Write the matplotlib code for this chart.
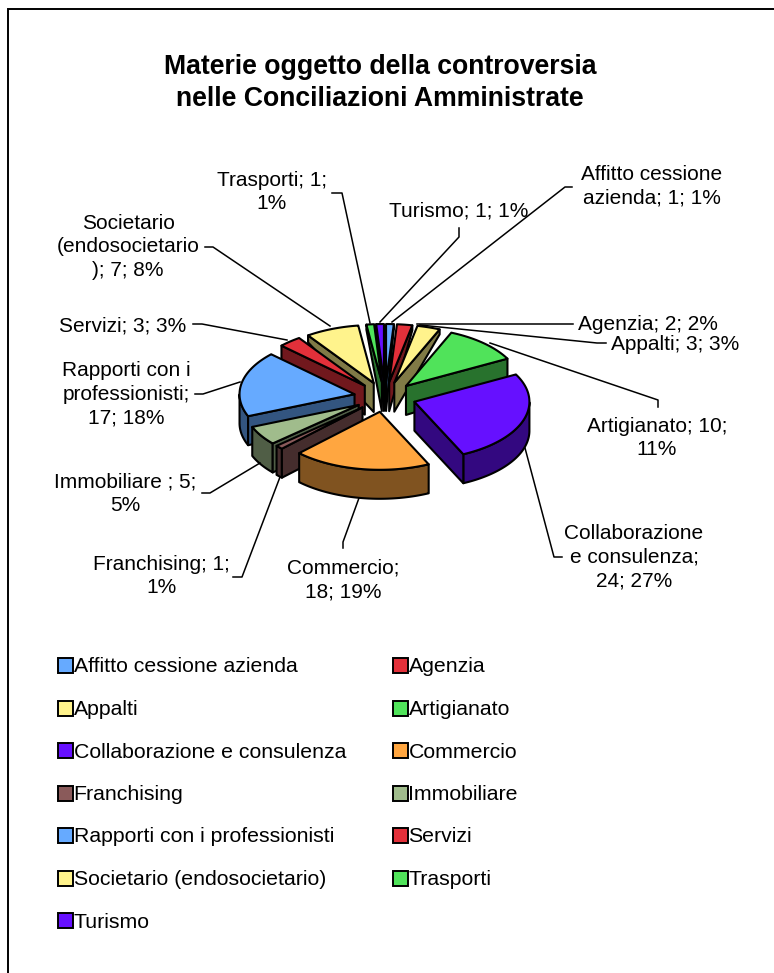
#!/usr/bin/python3
import numpy as np
import matplotlib
matplotlib.use("Agg")
import matplotlib.pyplot as plt
from matplotlib.patches import Polygon, Rectangle

plt.rcParams['font.family'] = ['Liberation Sans', 'DejaVu Sans']

# data
categories = ["Affitto cessione azienda", "Agenzia", "Appalti", "Artigianato",
              "Collaborazione e consulenza", "Commercio", "Franchising", "Immobiliare",
              "Rapporti con i professionisti", "Servizi", "Societario (endosocietario)",
              "Trasporti", "Turismo"]
values = [1, 2, 3, 10, 24, 18, 1, 5, 17, 3, 7, 1, 1]
colors = ["#66AAFF", "#E2303A", "#FFF38C", "#50E35A", "#6610FF", "#FFA640", "#8A5A5A",
          "#A0BC8C", "#66AAFF", "#E2303A", "#FFF38C", "#50E35A", "#6610FF"]

pie_labels = ["Affitto cessione\nazienda; 1; 1%", "Agenzia; 2; 2%", "Appalti; 3; 3%",
              "Artigianato; 10;\n11%", "Collaborazione\ne consulenza;\n24; 27%",
              "Commercio;\n18; 19%", "Franchising; 1;\n1%", "Immobiliare ; 5;\n5%",
              "Rapporti con i\nprofessionisti;\n17; 18%", "Servizi; 3; 3%",
              "Societario\n(endosocietario\n); 7; 8%", "Trasporti; 1;\n1%", "Turismo; 1; 1%"]
# label centre position and leader polyline, in picture pixels
label_pos = [(652, 186), (648, 324), (675, 345), (657, 438), (634, 557), (343, 580), (161, 576),
             (125, 494), (126, 394), (123, 326), (128, 247), (272, 192), (459, 211)]
leaders = [[(572, 187), (565, 187), (392, 322)], [(573, 324), (417, 324)],
           [(606, 343), (597, 343), (420, 325)], [(490, 343), (658, 400), (658, 407)],
           [(525, 448), (554, 557), (562, 557)], [(359, 498), (343, 542), (343, 548)],
           [(280, 477), (242, 577), (233, 577)], [(260, 463), (210, 493), (202, 493)],
           [(240, 382), (203, 394), (195, 394)], [(193, 324), (202, 324), (287, 340)],
           [(205, 247), (213, 247), (330, 326)], [(332, 193), (342, 193), (370, 323)],
           [(459, 228), (459, 237), (380, 322)]]

# pie geometry, picture pixels
cx, cy = 385, 397
rx, ry = 115, 58
ex, ey = 31, 15


def shade(c, f=0.5):
    r = matplotlib.colors.to_rgb(c)
    return tuple(v * f for v in r)


def depth(y):
    # far side of the pie looks thinner
    return np.clip(5 + (y - 333) * 0.8, 5, 29)


fig = plt.figure(figsize=(7.74, 9.73), dpi=100)
ax = fig.add_axes([0, 0, 1, 1])
ax.set_xlim(0, 774)
ax.set_ylim(973, 0)
ax.axis("off")

ax.add_patch(Rectangle((7.5, 8.5), 780, 990, fc="white", ec="black", lw=1.4))

ax.text(380, 83, "Materie oggetto della controversia\nnelle Conciliazioni Amministrate",
        ha="center", va="center", fontsize=19.2, fontweight="bold", linespacing=1.34)

# wedges
fr = np.cumsum([0] + values) / sum(values) * 2 * np.pi
wedges = []
for i in range(len(values)):
    a0, a1 = fr[i], fr[i + 1]
    mid = (a0 + a1) / 2
    ox = cx + ex * np.sin(mid)
    oy = cy - ey * np.cos(mid)
    t = np.linspace(a0, a1, max(3, values[i] * 6))
    wedges.append((oy, i, ox, oy, t))

for _, i, ox, oy, t in sorted(wedges, key=lambda w: w[0]):
    side = shade(colors[i])
    xs = ox + rx * np.sin(t)
    ys = oy - ry * np.cos(t)
    low = ys + depth(ys)

    # only the faces turned to the viewer get drawn
    front = np.cos(t) <= 0
    if front.sum() >= 2:
        rim = list(zip(xs[front], ys[front])) + list(zip(xs[front][::-1], low[front][::-1]))
        ax.add_patch(Polygon(rim, fc=side, ec="black", lw=1.5, joinstyle="round"))
    if np.sin(t[0]) < 0:
        wall = [(ox, oy), (xs[0], ys[0]), (xs[0], low[0]), (ox, oy + depth(oy))]
        ax.add_patch(Polygon(wall, fc=side, ec="black", lw=1.5, joinstyle="round"))
    if np.sin(t[-1]) > 0:
        wall = [(ox, oy), (xs[-1], ys[-1]), (xs[-1], low[-1]), (ox, oy + depth(oy))]
        ax.add_patch(Polygon(wall, fc=side, ec="black", lw=1.5, joinstyle="round"))
    top = [(ox, oy)] + list(zip(xs, ys))
    ax.add_patch(Polygon(top, fc=colors[i], ec="black", lw=1.5, joinstyle="round"))

# labels
for lab, (lx, ly), ld in zip(pie_labels, label_pos, leaders):
    ax.text(lx, ly, lab, ha="center", va="center", fontsize=15, linespacing=1.32)
    ax.plot(*zip(*ld), color="black", lw=1.1)

# legend
leg_x = [57.5, 392.5]
for i, cat in enumerate(categories):
    x = leg_x[i % 2]
    y = 665.5 + (i // 2) * 42.5
    ax.add_patch(Rectangle((x, y - 7.5), 15, 15, fc=colors[i], ec="black", lw=1.4))
    ax.text(x + 16, y + 1.5, cat, ha="left", va="center", fontsize=15.3)

fig.savefig("out.png", dpi=100)
